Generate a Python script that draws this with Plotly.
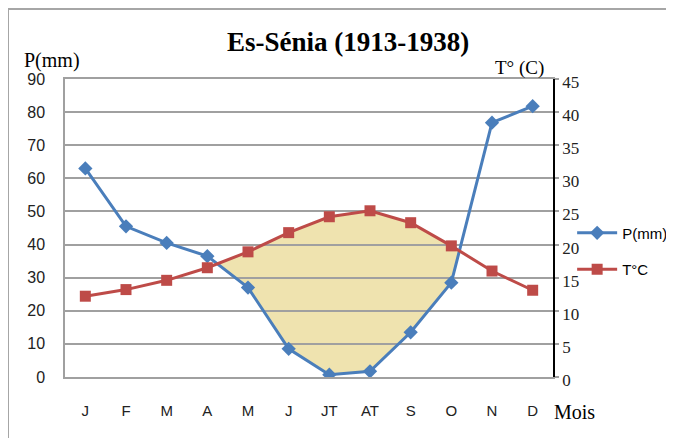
import plotly.graph_objects as go

months = ["J", "F", "M", "A", "M", "J", "JT", "AT", "S", "O", "N", "D"]
precip = [63, 45.5, 40.5, 36.5, 27, 8.5, 0.7, 1.7, 13.5, 28.5, 76.8, 81.8]
temp = [12.2, 13.2, 14.6, 16.5, 18.9, 21.8, 24.2, 25.1, 23.3, 19.8, 16.0, 13.1]
p_ticks = [0, 10, 20, 30, 40, 50, 60, 70, 80, 90]
t_ticks = [0, 5, 10, 15, 20, 25, 30, 35, 40, 45]

BLUE = "#4A7EBB"
RED = "#BE4B48"
FILL = "#EFE3AF"
GRID = "#A0A0A0"

idx = list(range(len(months)))

# dry-season polygon (2T > P), computed from the data
upper, lower = [], []
t2 = [2 * t for t in temp]
d = [a - b for a, b in zip(t2, precip)]
for i in range(len(idx)):
    if d[i] > 0:
        upper.append((idx[i], t2[i]))
        lower.append((idx[i], precip[i]))
    if i < len(idx) - 1 and (d[i] > 0) != (d[i + 1] > 0):
        f = d[i] / (d[i] - d[i + 1])
        xc = idx[i] + f * (idx[i + 1] - idx[i])
        yc = precip[i] + f * (precip[i + 1] - precip[i])
        upper.append((xc, yc))
        lower.append((xc, yc))
poly = upper + lower[::-1]
path = "M " + " L ".join(f"{x},{y}" for x, y in poly) + " Z"

fig = go.Figure()
fig.add_trace(go.Scatter(
    x=idx, y=precip, name="P(mm)", mode="lines+markers",
    line=dict(color=BLUE, width=3),
    marker=dict(symbol="diamond", size=11, color=BLUE),
    legendgroup="p",
))
fig.add_trace(go.Scatter(
    x=idx, y=temp, name="T°C", mode="lines+markers", yaxis="y2",
    line=dict(color=RED, width=3),
    marker=dict(symbol="square", size=11, color=RED),
    legendgroup="t",
))

fig.add_shape(type="path", path=path, xref="x", yref="y",
              fillcolor=FILL, line=dict(width=0), layer="below")

# outer frame
fig.add_shape(type="rect", xref="paper", yref="paper",
              x0=-0.1168, x1=2, y0=-2, y1=1.235,
              line=dict(color="#A6A6A6", width=2), fillcolor="rgba(0,0,0,0)", layer="above")

sans = "Liberation Sans, Arial, sans-serif"
serif = "Liberation Serif, Times New Roman, serif"

fig.update_layout(
    width=674, height=438,
    margin=dict(l=57, r=129, t=71, b=69),
    paper_bgcolor="white", plot_bgcolor="white",
    showlegend=True,
    legend=dict(xref="container", yref="container", x=0.837, y=0.445,
                xanchor="left", yanchor="middle",
                font=dict(family=sans, size=15, color="#000"),
                tracegroupgap=14, itemwidth=40, bgcolor="rgba(0,0,0,0)"),
    xaxis=dict(range=[-0.5, 11.5], tickmode="array", tickvals=idx, ticktext=months,
               showgrid=False, showline=True, linecolor=GRID, linewidth=1.5,
               mirror=True, ticks="", ticklabelstandoff=19, automargin=False,
               tickfont=dict(family=sans, size=15, color="#222"), zeroline=False),
    yaxis=dict(range=[0, 90], tickmode="array", tickvals=p_ticks,
               showgrid=True, gridcolor=GRID, gridwidth=1.5,
               showline=True, linecolor=GRID, linewidth=1.5, ticks="",
               ticklabelstandoff=15, zeroline=False, automargin=False,
               tickfont=dict(family=sans, size=16, color="#222")),
    yaxis2=dict(range=[0, 45], tickmode="array", tickvals=t_ticks, overlaying="y",
                side="right", showgrid=False, showline=True, linecolor="#000",
                linewidth=1.5, ticks="outside", ticklen=4, tickcolor=GRID,
                tickwidth=1.5, zeroline=False, ticklabelstandoff=0, automargin=False,
                ticklabelshift=3,
                tickfont=dict(family=serif, size=17, color="#222")),
)

fig.add_annotation(text="<b>Es-Sénia (1913-1938)</b>", xref="paper", yref="paper",
                   x=0.58, y=1.124, xanchor="center", yanchor="middle", showarrow=False,
                   font=dict(family=serif, size=27, color="#000"))
fig.add_annotation(text="P(mm)", xref="paper", yref="paper",
                   x=-0.027, y=1.062, xanchor="center", yanchor="middle", showarrow=False,
                   font=dict(family=serif, size=20, color="#000"))
fig.add_annotation(text="T° (C)", xref="paper", yref="paper",
                   x=0.932, y=1.037, xanchor="center", yanchor="middle", showarrow=False,
                   font=dict(family=serif, size=19, color="#000"))
fig.add_annotation(text="Mois", xref="paper", yref="paper",
                   x=1.045, y=-0.117, xanchor="center", yanchor="middle", showarrow=False,
                   font=dict(family=serif, size=20, color="#000"))

fig.write_html("out.html")
